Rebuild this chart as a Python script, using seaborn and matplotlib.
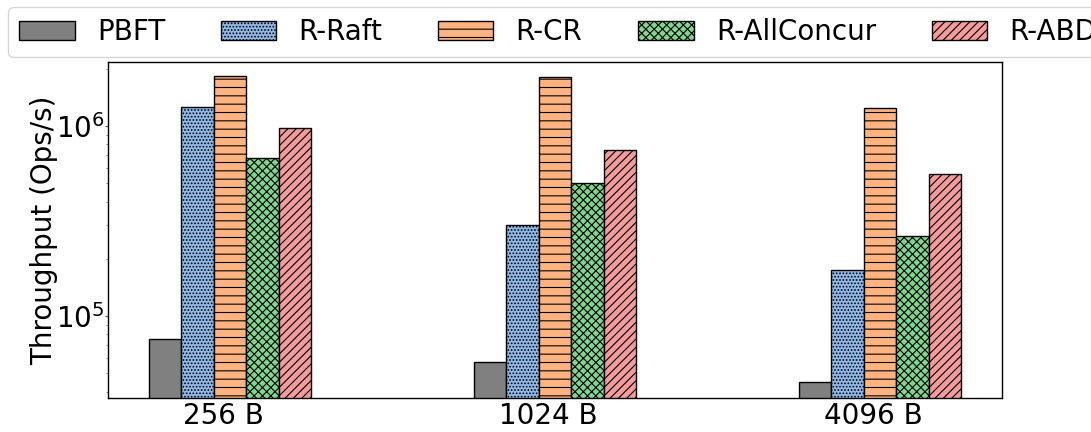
import matplotlib
matplotlib.use("Agg")
import matplotlib.pyplot as plt
import matplotlib.patches as mpatches
import seaborn as sns
import pandas as pd
import numpy as np

sizes = ["256 B", "1024 B", "4096 B"]
systems = ["PBFT", "R-Raft", "R-CR", "R-AllConcur", "R-ABD"]
pbft = [75400, 57000, 44800]
r_raft = [1.265e6, 3.0e5, 1.74e5]
r_cr = [1.83e6, 1.80e6, 1.24e6]
r_allconcur = [6.8e5, 5.0e5, 2.62e5]
r_abd = [9.7e5, 7.45e5, 5.57e5]

colors = ["#808080", "#90b8e8", "#ffb380", "#7fd68f", "#f49c9c"]
hatches = ["", ".....", "--", "xxxx", "////"]

series = [pbft, r_raft, r_cr, r_allconcur, r_abd]
rows = []
for sysname, vals in zip(systems, series):
    for s, v in zip(sizes, vals):
        rows.append({"size": s, "system": sysname, "tp": v})
df = pd.DataFrame(rows)

sns.set_style("white")
plt.rcParams["font.family"] = ["DejaVu Sans"]
plt.rcParams["hatch.linewidth"] = 0.8
plt.rcParams["text.color"] = "black"
plt.rcParams["axes.labelcolor"] = "black"
plt.rcParams["xtick.color"] = "black"
plt.rcParams["ytick.color"] = "black"

fig = plt.figure(figsize=(10.91, 4.32), dpi=100)
ax = fig.add_axes([108 / 1091, 34 / 432, (1002 - 108) / 1091, (398 - 62) / 432])

sns.barplot(data=df, x="size", y="tp", hue="system", order=sizes,
            hue_order=systems, palette=colors, width=0.5, ax=ax,
            edgecolor="black", linewidth=1.0, saturation=1, errorbar=None)
ax.set_yscale("log")

for cont, h in zip(ax.containers, hatches):
    for p in cont:
        p.set_hatch(h)
        p.set_edgecolor("black")

ax.set_ylim(37000, 2.17e6)
ax.set_xlim(-0.375, 2.375)
ax.set_xticks([i - 0.021 for i in range(len(sizes))])
ax.set_xticklabels(sizes)
ax.set_xlabel("")
ax.set_ylabel("Throughput (Ops/s)", fontsize=20, labelpad=-2)
ax.tick_params(axis="x", labelsize=20, length=0, pad=3, labelcolor="black")
ax.tick_params(axis="y", which="major", labelsize=20, length=2, width=0.8,
               pad=0.5, left=True, color="#555555", labelcolor="black")
ax.tick_params(axis="y", which="minor", length=1.5, width=0.6, left=True,
               color="#777777")
for sp in ax.spines.values():
    sp.set_visible(True)
    sp.set_color("black")
    sp.set_linewidth(1.0)

if ax.get_legend() is not None:
    ax.get_legend().remove()

handles = [mpatches.Patch(facecolor=c, edgecolor="black", hatch=h, label=n)
           for c, h, n in zip(colors, hatches, systems)]
leg = fig.legend(handles=handles, loc="upper left", ncol=5, fontsize=20,
                 bbox_to_anchor=(8 / 1091, 1 - 7 / 432), borderaxespad=0,
                 frameon=True, fancybox=True, framealpha=0.8,
                 edgecolor="#cccccc", handlelength=2.0, handleheight=0.7,
                 handletextpad=0.8, columnspacing=2.0)
for t in leg.get_texts():
    t.set_color("black")

fig.savefig("out.png", dpi=100)
